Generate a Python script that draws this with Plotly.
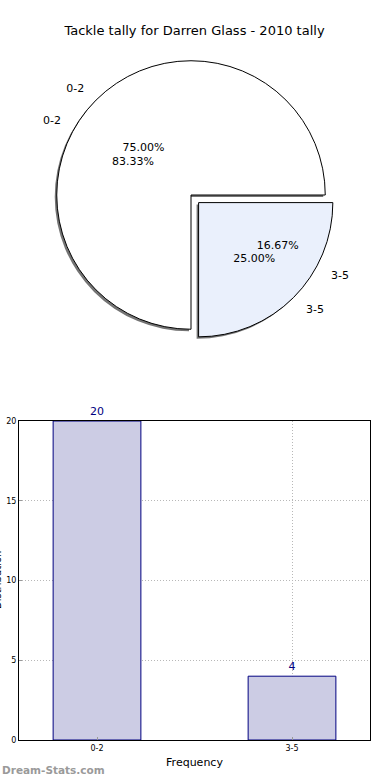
import plotly.graph_objects as go

# ---- data ----
pie_labels = ["0-2", "3-5"]
pie_values_a = [75, 25]          # drawn wedges
bar_categories = ["0-2", "3-5"]
bar_values = [20, 4]             # tally -> 83.33% / 16.67%
title_text = "Tackle tally for Darren Glass - 2010 tally"
y_ticks = [0, 5, 10, 15, 20]

W, H = 390, 780
ML, MR, MT, MB = 19, 20, 0, 40
PW, PH = W - ML - MR, H - MT - MB

def xf(px):
    return (px - ML) / PW

def yf(py):
    return (H - MB - py) / PH

def start_rot(values):
    # first wedge starts at 3 o'clock and runs counter-clockwise (matplotlib style)
    return (90 - 360.0 * values[0] / sum(values)) % 360

def dom(cx, cy, half, dx=0, dy=0):
    return dict(x=[xf(cx - half + dx), xf(cx + half + dx)],
                y=[yf(cy + half + dy), yf(cy - half + dy)])

pull = [0, 0.08]
cx, cy, half = 191, 195, 145
half_out = 158
d_main = dom(cx, cy, half)
d_shadow = dom(cx, cy, half, dx=-2, dy=2)
d_out = dom(cx, cy, half_out)

font = "DejaVu Sans"
common = dict(labels=pie_labels, sort=False, direction="counterclockwise",
              pull=pull, hoverinfo="skip", showlegend=False)
clear = dict(colors=["rgba(0,0,0,0)", "rgba(0,0,0,0)"], line=dict(width=0))
rot_a = start_rot(pie_values_a)
rot_b = start_rot(bar_values)
tf = dict(family=font, size=11, color="#000000")

fig = go.Figure()
# shadow
fig.add_trace(go.Pie(values=pie_values_a, domain=d_shadow, rotation=rot_a,
                     marker=dict(colors=["rgba(70,70,70,0.75)", "rgba(70,70,70,0.75)"], line=dict(width=0)),
                     textinfo="none", **common))
# main wedges with percentages inside
fig.add_trace(go.Pie(values=pie_values_a, domain=d_main, rotation=rot_a,
                     marker=dict(colors=["#ffffff", "#eaf0fc"], line=dict(color="#000000", width=1)),
                     texttemplate="%{percent:.2%}", textposition="inside",
                     insidetextorientation="horizontal", textfont=tf, **common))
# outside labels for drawn pie
fig.add_trace(go.Pie(values=pie_values_a, domain=d_out, rotation=rot_a, marker=clear,
                     texttemplate="%{label}", textposition="outside", textfont=tf, **common))
# second set of labels from tally
fig.add_trace(go.Pie(values=bar_values, domain=d_main, rotation=rot_b, marker=clear,
                     texttemplate="%{percent:.2%}", textposition="inside",
                     insidetextorientation="horizontal", textfont=tf, **common))
fig.add_trace(go.Pie(values=bar_values, domain=d_out, rotation=rot_b, marker=clear,
                     texttemplate="%{label}", textposition="outside", textfont=tf, **common))

# bar chart
fig.add_trace(go.Bar(x=bar_categories, y=bar_values, width=0.45,
                     marker=dict(color="#cccce4", line=dict(color="#000080", width=1)),
                     text=bar_values, textposition="outside", cliponaxis=False,
                     textfont=dict(family=font, size=11, color="#000080"),
                     outsidetextfont=dict(family=font, size=11, color="#000080"),
                     hoverinfo="skip", showlegend=False))

grid = dict(showgrid=True, gridcolor="#b8b8b8", griddash="1px,2px", gridwidth=1)
fig.update_layout(
    template="none",
    width=W, height=H,
    margin=dict(l=ML, r=MR, t=MT, b=MB, autoexpand=False),
    paper_bgcolor="white", plot_bgcolor="white",
    font=dict(family=font, color="#000000"),
    title=dict(text=title_text, x=0.5, xanchor="center", xref="paper",
               y=1 - 30 / H, yanchor="middle", yref="container",
               font=dict(family=font, size=13, color="#000000")),
    xaxis=dict(domain=[0, 1], range=[-0.4, 1.4], type="category", automargin=False,
               showline=True, linecolor="#000000", linewidth=1, mirror=True,
               ticks="inside", ticklen=3, tickcolor="#999999",
               tickfont=dict(family=font, size=8),
               title=dict(text="Frequency", font=dict(family=font, size=11), standoff=6),
               zeroline=False, **grid),
    yaxis=dict(domain=[0, yf(421)], range=[0, 20], tickvals=y_ticks, automargin=False,
               showline=True, linecolor="#000000", linewidth=1, mirror=True,
               ticks="inside", ticklen=3, tickcolor="#999999",
               tickfont=dict(family=font, size=8),
               zeroline=False, **grid),
    annotations=[
        dict(text="Distribution", x=xf(-3), y=yf(580), xref="paper", yref="paper",
             textangle=-90, showarrow=False, font=dict(family=font, size=10, color="#000000"),
             xanchor="center", yanchor="middle"),
        dict(text="<b>Dream-Stats.com</b>", x=xf(0), y=yf(770), xref="paper", yref="paper",
             showarrow=False, font=dict(family=font, size=10.5, color="#9a9a9a"),
             xanchor="left", yanchor="middle"),
    ],
)

fig.write_html("out.html", config={"displayModeBar": False},
               post_script="document.body.style.margin='0px';document.body.style.overflow='hidden';")
